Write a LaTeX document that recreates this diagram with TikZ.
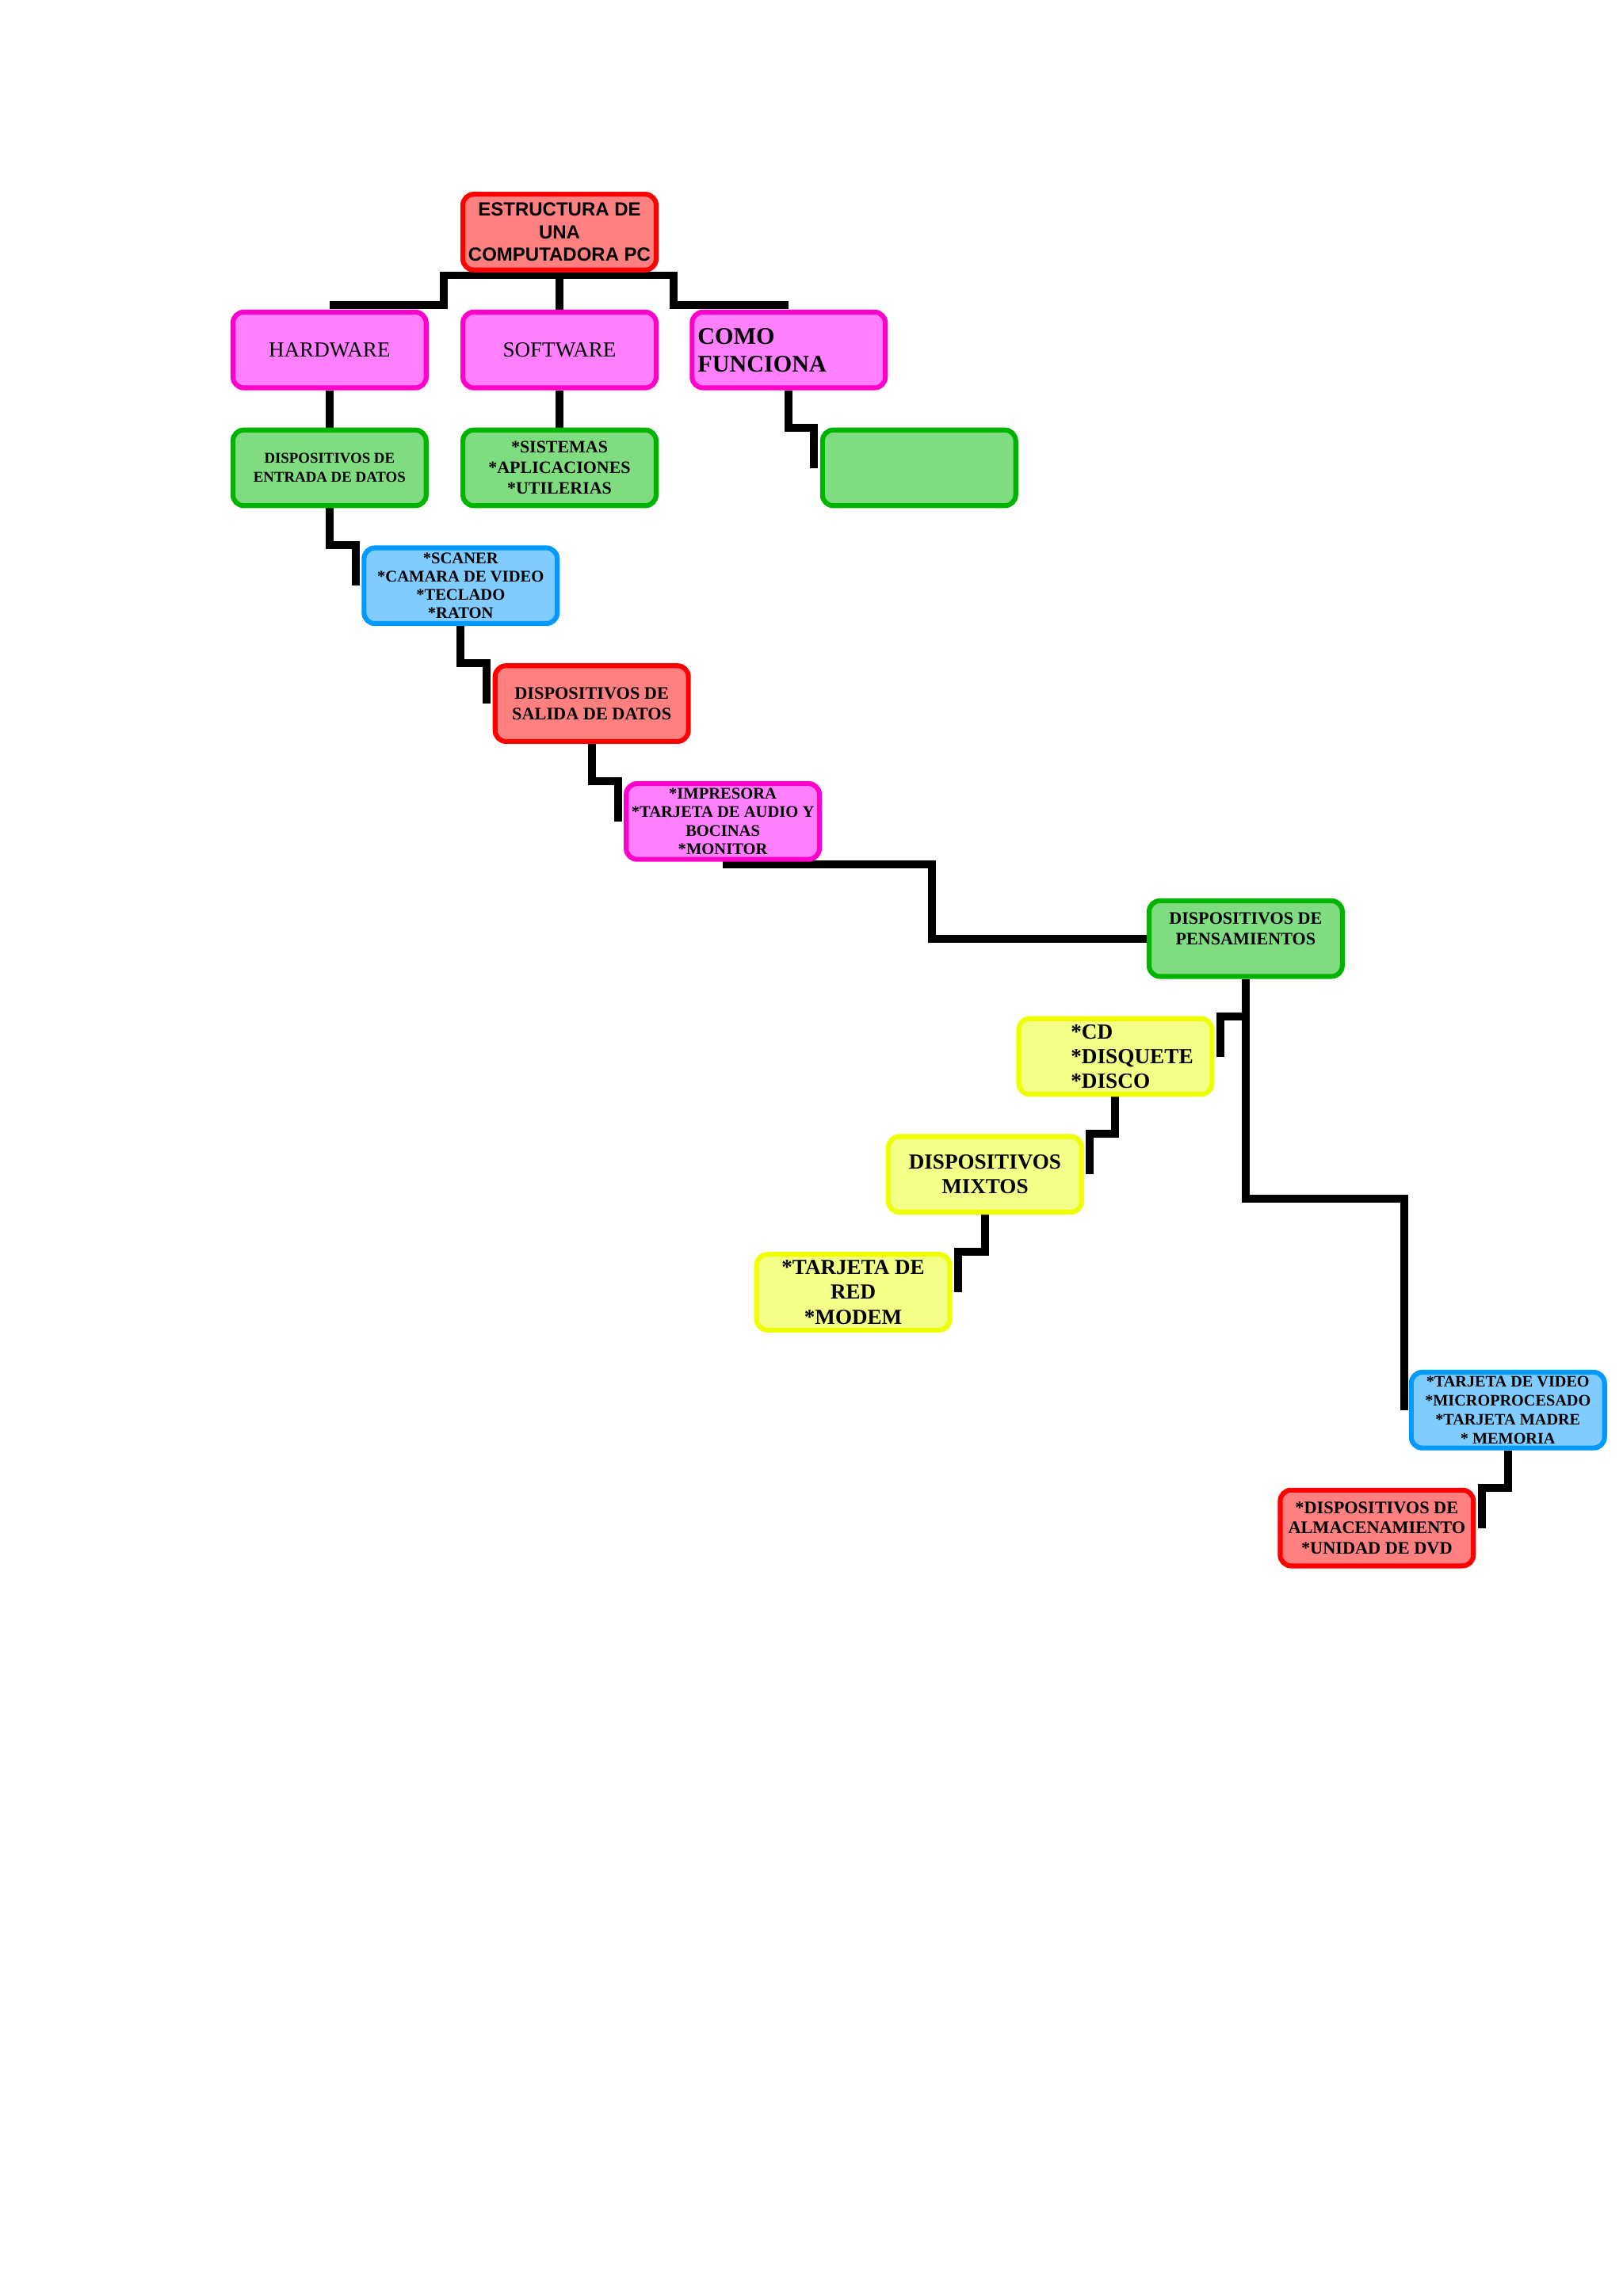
\documentclass[tikz,border=0pt]{standalone}
\usepackage{fontspec}
\setmainfont{Liberation Serif}
\newfontfamily\arialfont{Liberation Sans}
\usetikzlibrary{calc,backgrounds}

\definecolor{rojoborde}{HTML}{FF0000}
\definecolor{rojofondo}{HTML}{FF8080}
\definecolor{rosaborde}{HTML}{FF00CC}
\definecolor{rosafondo}{HTML}{FF80FF}
\definecolor{verdeborde}{HTML}{00B400}
\definecolor{verdefondo}{HTML}{80DC80}
\definecolor{azulborde}{HTML}{0099FF}
\definecolor{azulfondo}{HTML}{80CCFF}
\definecolor{amarilloborde}{HTML}{EEFF00}
\definecolor{amarillofondo}{HTML}{F4FF88}

\newcommand{\tam}[2]{\fontsize{#1}{#2}\selectfont}

\begin{document}
\begin{tikzpicture}[x=0.018953cm, y=0.018953cm,
  caja/.style={draw, rounded corners=4pt, line width=1.8pt, minimum width=2.5cm,
    minimum height=0.98cm, inner xsep=1pt, inner ysep=0pt, align=center},
  roja/.style={caja, draw=rojoborde, fill=rojofondo},
  rosa/.style={caja, draw=rosaborde, fill=rosafondo},
  verde/.style={caja, draw=verdeborde, fill=verdefondo},
  azul/.style={caja, draw=azulborde, fill=azulfondo},
  amarilla/.style={caja, draw=amarilloborde, fill=amarillofondo},
  conector/.style={line width=2.9pt, black}]

  \useasboundingbox (0,0) rectangle (1108,-1568);

  % Raiz
  \node[roja, font={\arialfont\bfseries\tam{7pt}{8.3pt}}] (raiz) at (382,-158.5)
    {ESTRUCTURA DE\\UNA\\COMPUTADORA PC};

  % Primer nivel
  \node[rosa, font=\tam{7.9pt}{9pt}] (hw) at (225,-239) {HARDWARE};
  \node[rosa, font=\tam{7.9pt}{9pt}] (sw) at (382,-239) {SOFTWARE};
  \node[rosa, font={\bfseries\tam{8.8pt}{10.2pt}}, align=left, text width=67pt,
    inner xsep=2pt] (como) at (538.5,-239) {COMO\\FUNCIONA};

  % Segundo nivel
  \node[verde, font={\bfseries\tam{5.5pt}{7pt}}] (ent) at (225,-319.5)
    {DISPOSITIVOS DE\\ENTRADA DE DATOS};
  \node[verde, font={\bfseries\tam{6.4pt}{7.5pt}}] (sis) at (382,-319.5)
    {*SISTEMAS\\{}*APLICACIONES\\{}*UTILERIAS};
  \node[verde] (vacio) at (627.5,-319.5) {};

  % Escalera de hardware
  \node[azul, font={\bfseries\tam{6pt}{6.8pt}}] (scan) at (314.5,-400)
    {*SCANER\\{}*CAMARA DE VIDEO\\{}*TECLADO\\{}*RATON};
  \node[roja, font={\bfseries\tam{6.5pt}{7.5pt}}] (sal) at (404,-480.5)
    {DISPOSITIVOS DE\\SALIDA DE DATOS};
  \node[rosa, font={\bfseries\tam{6pt}{6.8pt}}] (imp) at (493.5,-561)
    {*IMPRESORA\\{}*TARJETA DE AUDIO Y\\BOCINAS\\{}*MONITOR};
  \node[verde, font={\bfseries\tam{6.45pt}{7.5pt}}] (pen) at (850.5,-641)
    {DISPOSITIVOS DE\\PENSAMIENTOS\\~};

  % Rama izquierda
  \node[amarilla, font={\bfseries\tam{7.95pt}{9.1pt}}, align=left] (cd) at (761.5,-721.5)
    {\hspace*{12.3pt}*CD\\\hspace*{12.3pt}*DISQUETE\\\hspace*{12.3pt}*DISCO};
  \node[amarilla, font={\bfseries\tam{7.9pt}{9.1pt}}] (mix) at (672.5,-802)
    {DISPOSITIVOS\\MIXTOS};
  \node[amarilla, font={\bfseries\tam{7.9pt}{9.1pt}}] (tred) at (582.5,-882.5)
    {*TARJETA DE\\RED\\{}*MODEM};

  % Rama derecha
  \node[azul, font={\bfseries\tam{5.9pt}{7pt}}] (vid) at (1029.5,-963)
    {*TARJETA DE VIDEO\\{}*MICROPROCESADO\\{}*TARJETA MADRE\\{}* MEMORIA};
  \node[roja, font={\bfseries\tam{6.5pt}{7.5pt}}] (alm) at (940,-1043.5)
    {*DISPOSITIVOS DE\\ALMACENAMIENTO\\{}*UNIDAD DE DVD};

  % Conectores
  \begin{scope}[on background layer]
    \fill[white] (0,0) rectangle (1108,-1568);
    \draw[conector] ($(hw.north)+(0,3)$) -| ($(raiz.south)+(-79,-2)$)
      -- ($(raiz.south)+(78,-2)$) |- ($(como.north)+(0,3)$);
    \draw[conector] (raiz.south) -- (sw.north);
    \draw[conector] (hw.south) -- (ent.north);
    \draw[conector] (sw.south) -- (sis.north);
    \draw[conector] (como.south) |- ($(vacio.north west)+(-4,0)$) -- ($(vacio.west)+(-4,0)$);
    \draw[conector] (ent.south) |- ($(scan.north west)+(-4,0)$) -- ($(scan.west)+(-4,0)$);
    \draw[conector] (scan.south) |- ($(sal.north west)+(-4,0)$) -- ($(sal.west)+(-4,0)$);
    \draw[conector] (sal.south) |- ($(imp.north west)+(-4,0)$) -- ($(imp.west)+(-4,0)$);
    \draw[conector] ($(imp.south)+(0,-2)$) -- ++(143,0) |- (pen.west);
    \draw[conector] (pen.south) |- ($(cd.north east)+(4,0)$) -- ($(cd.east)+(4,0)$);
    \draw[conector] (cd.south) |- ($(mix.north east)+(4,0)$) -- ($(mix.east)+(4,0)$);
    \draw[conector] (mix.south) |- ($(tred.north east)+(4,0)$) -- ($(tred.east)+(4,0)$);
    \draw[conector] (pen.south) -- ++(0,-150) -| ($(vid.west)+(-3,0)$);
    \draw[conector] (vid.south) |- ($(alm.north east)+(4,0)$) -- ($(alm.east)+(4,0)$);
  \end{scope}

\end{tikzpicture}
\end{document}
